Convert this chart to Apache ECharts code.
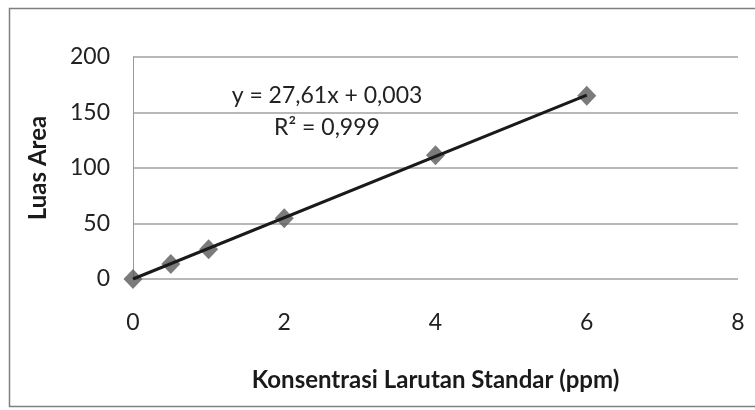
<!DOCTYPE html>
<html><head><meta charset="utf-8">
<script src="https://cdn.jsdelivr.net/npm/echarts@6/dist/echarts.min.js"></script>
<style>html,body{margin:0;padding:0;background:#fff}#c{width:755px;height:410px}</style>
</head><body><div id="c"></div>
<script>
const concentrations = [0, 0.5, 1, 2, 4, 6];
const areas = [0, 13.5, 26.7, 54.7, 111.5, 165];
const trendX = [0, 6];
const trendY = [0.003, 165.663];
const xTicks = [0, 2, 4, 6, 8];
const yTicks = [0, 50, 100, 150, 200];
const equationText = 'y = 27,61x + 0,003';
const r2Text = 'R² = 0,999';
const xTitle = 'Konsentrasi Larutan Standar (ppm)';
const yTitle = 'Luas Area';

const font = 'Lato, "Open Sans", sans-serif';
const chart = echarts.init(document.getElementById('c'), null, {renderer: 'canvas'});
chart.setOption({
  animation: false,
  backgroundColor: '#fff',
  grid: {left: 133, right: 17, top: 57, bottom: 131, containLabel: false},
  xAxis: {
    type: 'value', min: xTicks[0], max: xTicks[xTicks.length - 1], interval: 2,
    name: xTitle, nameLocation: 'middle', nameGap: 89,
    nameTextStyle: {fontFamily: font, fontSize: 24, fontWeight: 'bold', color: '#1a1a1a'},
    axisLine: {show: false}, axisTick: {show: false},
    axisLabel: {fontFamily: font, fontSize: 23, color: '#222', margin: 32},
    splitLine: {show: false}
  },
  yAxis: {
    type: 'value', min: yTicks[0], max: yTicks[yTicks.length - 1], interval: 50,
    name: yTitle, nameLocation: 'middle', nameGap: 83, nameRotate: 90,
    nameTextStyle: {fontFamily: font, fontSize: 24, fontWeight: 'bold', color: '#1a1a1a'},
    axisLine: {show: true, lineStyle: {color: '#999', width: 1}}, axisTick: {show: false},
    axisLabel: {fontFamily: font, fontSize: 23, color: '#222', margin: 23},
    splitLine: {show: true, lineStyle: {color: '#a0a0a0', width: 1.5}}
  },
  graphic: [
    {type: 'rect', shape: {x: 9.5, y: 8.5, width: 760, height: 398}, style: {fill: 'none', stroke: '#7f7f7f', lineWidth: 1.5}, z: 100},
    {type: 'text', x: 327, y: 96, style: {text: equationText, fontFamily: font, fontSize: 23, fill: '#222', align: 'center', verticalAlign: 'middle'}, z: 100},
    {type: 'text', x: 327, y: 128, style: {text: r2Text, fontFamily: font, fontSize: 23, fill: '#222', align: 'center', verticalAlign: 'middle'}, z: 100}
  ],
  series: [
    {
      type: 'line', data: trendX.map((x, i) => [x, trendY[i]]),
      showSymbol: false, symbol: 'none',
      lineStyle: {color: '#1a1a1a', width: 3}, z: 3
    },
    {
      type: 'scatter', data: concentrations.map((x, i) => [x, areas[i]]),
      symbol: 'diamond', symbolSize: [19, 20],
      itemStyle: {color: '#5a5a5a'}, z: 2
    }
  ]
});
</script></body></html>
